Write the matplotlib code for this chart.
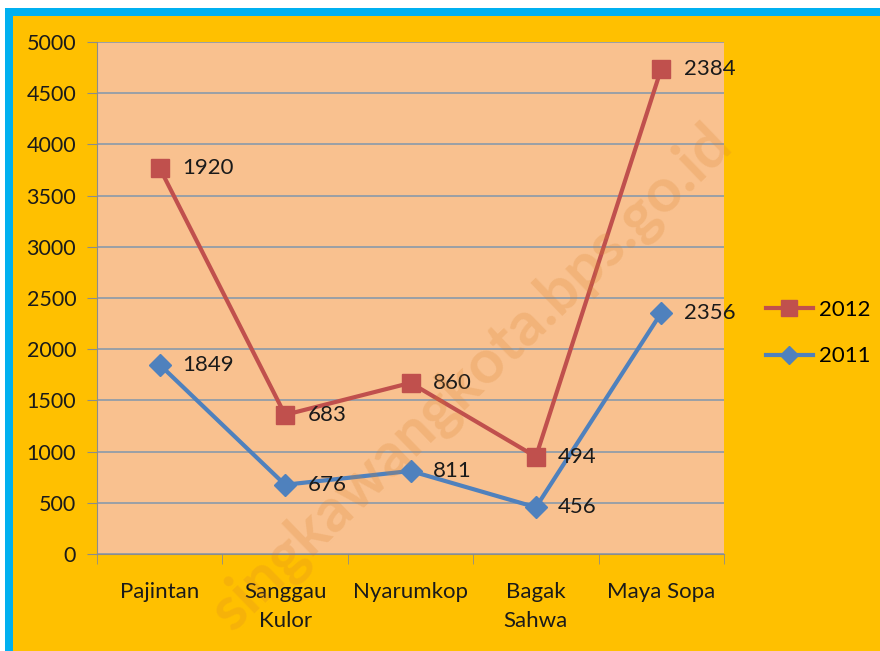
import matplotlib
matplotlib.use('Agg')
import matplotlib.pyplot as plt
import numpy as np
from matplotlib.patches import Rectangle

categories = ['Pajintan', 'Sanggau\nKulor', 'Nyarumkop', 'Bagak\nSahwa', 'Maya Sopa']
val_2011 = [1849, 676, 811, 456, 2356]
val_2012 = [1920, 683, 860, 494, 2384]
yticks = [0, 500, 1000, 1500, 2000, 2500, 3000, 3500, 4000, 4500, 5000]

plt.rcParams['font.family'] = ['Lato', 'DejaVu Sans']

W, H = 880, 651
fig = plt.figure(figsize=(W / 100, H / 100), dpi=100)
fig.patch.set_facecolor('white')

# chart frame: orange fill with blue border on top and left
fig.add_artist(Rectangle((5 / W, 0), 1, 1 - 8 / H, transform=fig.transFigure,
                         facecolor='#00B0F0', edgecolor='none', zorder=-3))
fig.add_artist(Rectangle((13 / W, 0), 1, 1 - 16 / H, transform=fig.transFigure,
                         facecolor='#FFC000', edgecolor='none', zorder=-2))

ax = fig.add_axes([97 / W, 1 - 554 / H, 627 / W, 512 / H])
ax.set_facecolor('#F9C18F')

x = np.arange(len(categories))
stack_2012 = np.array(val_2011) + np.array(val_2012)

ax.plot(x, stack_2012, color='#C0504D', lw=3, marker='s', ms=13, zorder=4, label='2012')
ax.plot(x, val_2011, color='#4F81BD', lw=3, marker='D', ms=11, zorder=4, label='2011')

for xi, yi, v in zip(x, stack_2012, val_2012):
    ax.annotate(str(v), (xi, yi), xytext=(16, 0), textcoords='offset points',
                va='center', ha='left', fontsize=16, color='#1a1a1a', zorder=5)
for xi, yi, v in zip(x, val_2011, val_2011):
    ax.annotate(str(v), (xi, yi), xytext=(16, 0), textcoords='offset points',
                va='center', ha='left', fontsize=16, color='#1a1a1a', zorder=5)

ax.set_xlim(-0.5, len(categories) - 0.5)
ax.set_ylim(0, 5000)
ax.set_yticks(yticks)
ax.tick_params(axis='y', labelsize=15.5, length=7, color='#8c8c8c', pad=8, labelcolor='#1a1a1a')
ax.set_xticks(x)
ax.set_xticklabels(categories, fontsize=16, color='#1a1a1a', linespacing=1.55)
ax.set_xticks(np.arange(len(categories) + 1) - 0.5, minor=True)
ax.tick_params(axis='x', which='major', length=0, pad=20)
ax.tick_params(axis='x', which='minor', length=7, color='#8c8c8c')
ax.grid(axis='y', color='#8A9AAA', lw=1.2)
ax.set_axisbelow(True)
for s in ['top', 'right']:
    ax.spines[s].set_visible(False)
ax.spines['left'].set_color('#8c8c8c')
ax.spines['bottom'].set_color('#8c8c8c')

leg = fig.legend(loc='center left', bbox_to_anchor=(746 / W, 1 - 333 / H), frameon=False,
                 fontsize=16, handlelength=2.1, labelspacing=1.2, handletextpad=0.3,
                 markerscale=0.85)

# watermark
fig.text(472 / W, 1 - 378 / H, 'singkawangkota.bps.go.id', rotation=44, fontsize=44,
         fontweight='bold', color='#D9822B', alpha=0.22, ha='center', va='center', zorder=10)

fig.savefig('out.png', dpi=100, facecolor=fig.get_facecolor())
